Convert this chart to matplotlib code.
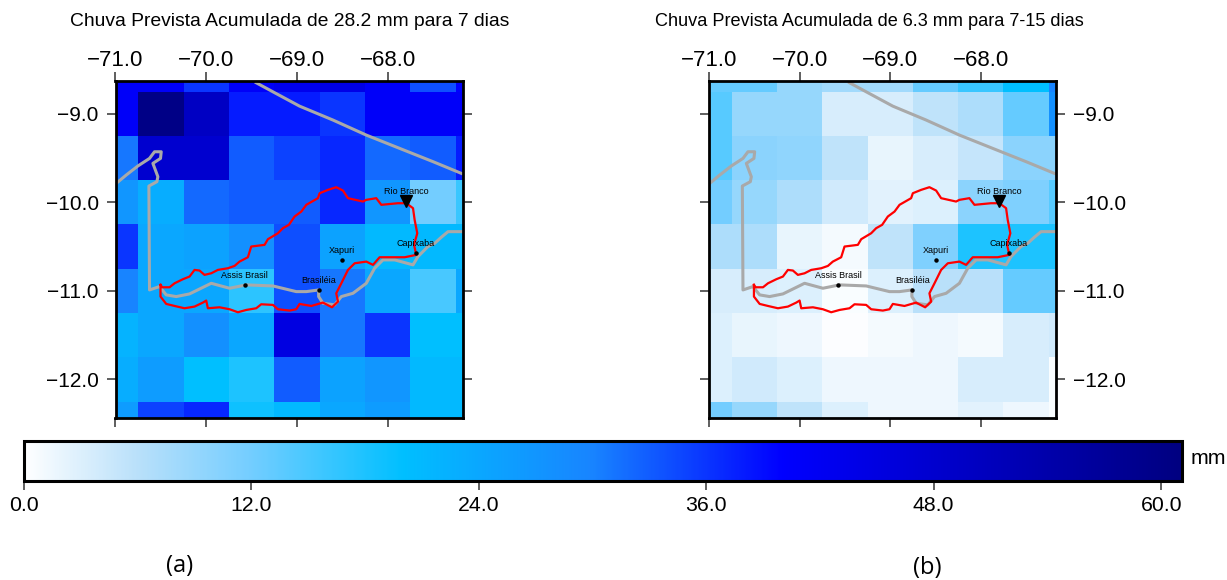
import numpy as np
from matplotlib import pyplot as plt
from matplotlib.cm import ScalarMappable
from matplotlib.colors import LinearSegmentedColormap, Normalize

plt.rcParams['font.family'] = ['Liberation Sans', 'DejaVu Sans']

lon_edges = [-71.25, -70.75, -70.25, -69.75, -69.25, -68.75, -68.25, -67.75, -67.25, -66.75]
lat_edges = [-8.25, -8.75, -9.25, -9.75, -10.25, -10.75, -11.25, -11.75, -12.25, -12.75]

# chuva em mm, linhas de norte para sul
rain_a = [
    [41, 41, 36, 41, 43, 44, 41, 34, 40],
    [41, 60, 50, 38, 38, 36, 41, 41, 41],
    [31, 48, 48, 33, 35, 37, 32, 33, 38],
    [27, 23, 32, 33, 33, 37, 27, 12, 16],
    [36, 24, 25, 28, 34, 25, 21, 21, 21],
    [30, 24, 24, 17, 34, 31, 24, 15, 24],
    [22, 24, 28, 24, 45, 31, 36, 20, 20],
    [23, 26, 20, 18, 33, 25, 27, 21, 21],
    [26, 35, 37, 19, 21, 24, 26, 21, 21],
]
rain_b = [
    [13, 13, 9, 8, 8, 13, 16, 20, 30],
    [14, 9, 9, 3.5, 3.5, 5.5, 7, 13, 28],
    [14, 10, 9.5, 5.5, 2, 3.5, 5, 10, 10],
    [12, 9, 7, 4, 2.5, 3, 10, 11, 14],
    [7, 7, 2, 1, 5.5, 11, 18, 18, 18],
    [3.5, 3.5, 3, 0.5, 3, 6, 6, 13, 13],
    [3, 2, 1.5, 0.3, 1, 1.5, 1, 3.5, 4],
    [3, 4, 3, 1.5, 1.5, 1.5, 3.5, 3.5, 0.5],
    [12, 9, 5.5, 3, 1.5, 1.5, 2.5, 1.5, 0.5],
]

basin_lon = [-70.504, -70.485, -70.404, -70.349, -70.257, -70.184, -70.129, -70.074, -70.019, -69.945,
             -69.872, -69.761, -69.688, -69.633, -69.541, -69.504, -69.357, -69.32, -69.21, -69.155,
             -69.089, -69.026, -68.952, -68.897, -68.769, -68.75, -68.658, -68.567, -68.493, -68.438,
             -68.273, -68.236, -68.126, -68.07, -67.887, -67.795, -67.721, -67.703, -67.674, -67.71,
             -67.685, -67.813, -67.96, -68.089, -68.162, -68.236, -68.364, -68.438, -68.511, -68.567,
             -68.548, -68.614, -68.714, -68.842, -68.971, -69.008, -69.081, -69.21, -69.265, -69.394,
             -69.449, -69.559, -69.651, -69.743, -69.853, -69.982, -70.0, -70.037, -70.129, -70.239,
             -70.349, -70.441, -70.504, -70.504]
basin_lat = [-10.932, -10.959, -10.959, -10.914, -10.868, -10.838, -10.763, -10.77, -10.819, -10.801,
             -10.763, -10.744, -10.718, -10.669, -10.62, -10.499, -10.48, -10.416, -10.349, -10.292,
             -10.254, -10.16, -10.104, -10.028, -9.953, -9.897, -9.859, -9.829, -9.867, -9.953,
             -9.991, -9.972, -9.953, -10.028, -10.01, -10.01, -10.066, -10.198, -10.349, -10.48,
             -10.593, -10.62, -10.62, -10.62, -10.706, -10.669, -10.688, -10.763, -10.914, -11.027,
             -11.121, -11.185, -11.132, -11.17, -11.147, -11.207, -11.222, -11.207, -11.158, -11.151,
             -11.196, -11.215, -11.241, -11.207, -11.185, -11.196, -11.109, -11.132, -11.177, -11.196,
             -11.17, -11.147, -11.064, -10.932]

border_lon = [-71.0, -70.882, -70.754, -70.625, -70.57, -70.496, -70.504, -70.588, -70.533, -70.544,
              -70.632, -70.625, -70.515, -70.441, -70.331, -70.184, -69.945, -69.743, -69.559, -69.265,
              -69.008, -68.897, -68.761, -68.761, -68.714, -68.585, -68.511, -68.383, -68.236, -68.144,
              -68.052, -67.923, -67.721, -67.666, -67.556, -67.482, -67.409, -67.335, -67.188]
border_lat = [-9.793, -9.692, -9.59, -9.504, -9.429, -9.429, -9.504, -9.56, -9.711, -9.767,
              -9.816, -10.989, -10.951, -11.045, -11.064, -11.034, -10.914, -10.97, -10.932, -10.944,
              -11.008, -11.008, -10.989, -11.064, -11.139, -11.158, -11.064, -11.027, -10.914, -10.744,
              -10.65, -10.65, -10.706, -10.612, -10.499, -10.462, -10.394, -10.331, -10.331]

north_lon = [-69.449, -69.265, -68.971, -68.603, -68.235, -67.868, -67.5, -67.188]
north_lat = [-8.65, -8.752, -8.914, -9.071, -9.241, -9.391, -9.541, -9.673]

city_names = ['Capixaba', 'Xapuri', 'Brasiléia', 'Assis Brasil']
city_lon = [-67.69, -68.5, -68.757, -69.577]
city_lat = [-10.57, -10.654, -10.992, -10.932]
outlet_lon = -67.80
outlet_lat = -9.99

x_ticks = [-71, -70, -69, -68]
y_ticks = [-9, -10, -11, -12]
bar_ticks = [0, 12, 24, 36, 48, 60]

W, H = 1227, 580
cmap = LinearSegmentedColormap.from_list('chuva', [(0, 'white'), (6 / 61.1, '#b9e0fa'), (12 / 61.1, '#73cdff'),
                                                   (20 / 61.1, '#00bfff'), (30 / 61.1, '#1884ff'),
                                                   (40 / 61.1, '#0000ff'), (1, '#000080')], N=1024)
norm = Normalize(0, 61.1)


def axes_px(left, top, right, bottom):
    return fig.add_axes([left / W, 1 - bottom / H, (right - left) / W, (bottom - top) / H])


def panel(box, rain, title, title_x, title_size, right_labels):
    ax = axes_px(*box)
    ax.pcolormesh(lon_edges, lat_edges, rain, cmap=cmap, norm=norm, rasterized=True)
    ax.plot(north_lon, north_lat, color='#a9a9a9', lw=2.2)
    ax.plot(border_lon, border_lat, color='#a9a9a9', lw=2.2)
    ax.plot(basin_lon, basin_lat, color='#ff0000', lw=1.6)
    ax.plot(city_lon, city_lat, 'o', color='black', ms=2.2)
    ax.plot(outlet_lon, outlet_lat, 'v', color='black', ms=8.5)
    for name, lo, la in zip(city_names, city_lon, city_lat):
        ax.text(lo, la + 0.06, name, fontsize=6.5, ha='center', va='bottom')
    ax.text(outlet_lon, outlet_lat + 0.06, 'Rio Branco', fontsize=6.5, ha='center', va='bottom')
    ax.set_xlim(-71.0, -67.17)
    ax.set_ylim(-12.435, -8.63)
    ax.set_xticks(x_ticks, ['\u2212%.1f' % abs(v) for v in x_ticks])
    ax.set_yticks(y_ticks, ['\u2212%.1f' % abs(v) for v in y_ticks])
    ax.tick_params(axis='both', length=6.5, width=1.1, color='#333333', top=True, bottom=True,
                   left=True, right=True, labeltop=True, labelbottom=False,
                   labelleft=not right_labels, labelright=right_labels)
    ax.tick_params(axis='x', labelsize=16, pad=0.5)
    ax.tick_params(axis='y', labelsize=15, pad=5.5)
    for s in ax.spines.values():
        s.set_linewidth(2)
    fig.text(title_x / W, 1 - 21 / H, title, fontsize=title_size, ha='center', va='center')
    return ax


fig = plt.figure(figsize=(W / 100, H / 100), dpi=100)
panel((115.5, 81, 463, 418), rain_a, 'Chuva Prevista Acumulada de 28.2 mm para 7 dias', 289.5, 13.9, False)
panel((709, 81, 1056, 418), rain_b, 'Chuva Prevista Acumulada de 6.3 mm para 7-15 dias', 869.5, 13.06, True)

cax = axes_px(23.5, 441, 1182, 481)
cb = fig.colorbar(ScalarMappable(norm=norm, cmap=cmap), cax=cax, orientation='horizontal')
cb.set_ticks(bar_ticks, labels=['%.1f' % v for v in bar_ticks])
cax.tick_params(length=6.5, width=1.1, color='#333333', labelsize=15.3, pad=4)
cb.outline.set_linewidth(2.2)

fig.text(1191 / W, 1 - 458 / H, 'mm', fontsize=15.3, va='center', ha='left')
fig.text(180 / W, 1 - 566 / H, '(a)', fontsize=17, family='Open Sans', ha='center', va='center')
fig.text(927 / W, 1 - 568 / H, '(b)', fontsize=17, family='Open Sans', ha='center', va='center')

fig.savefig('out.png', dpi=100)
